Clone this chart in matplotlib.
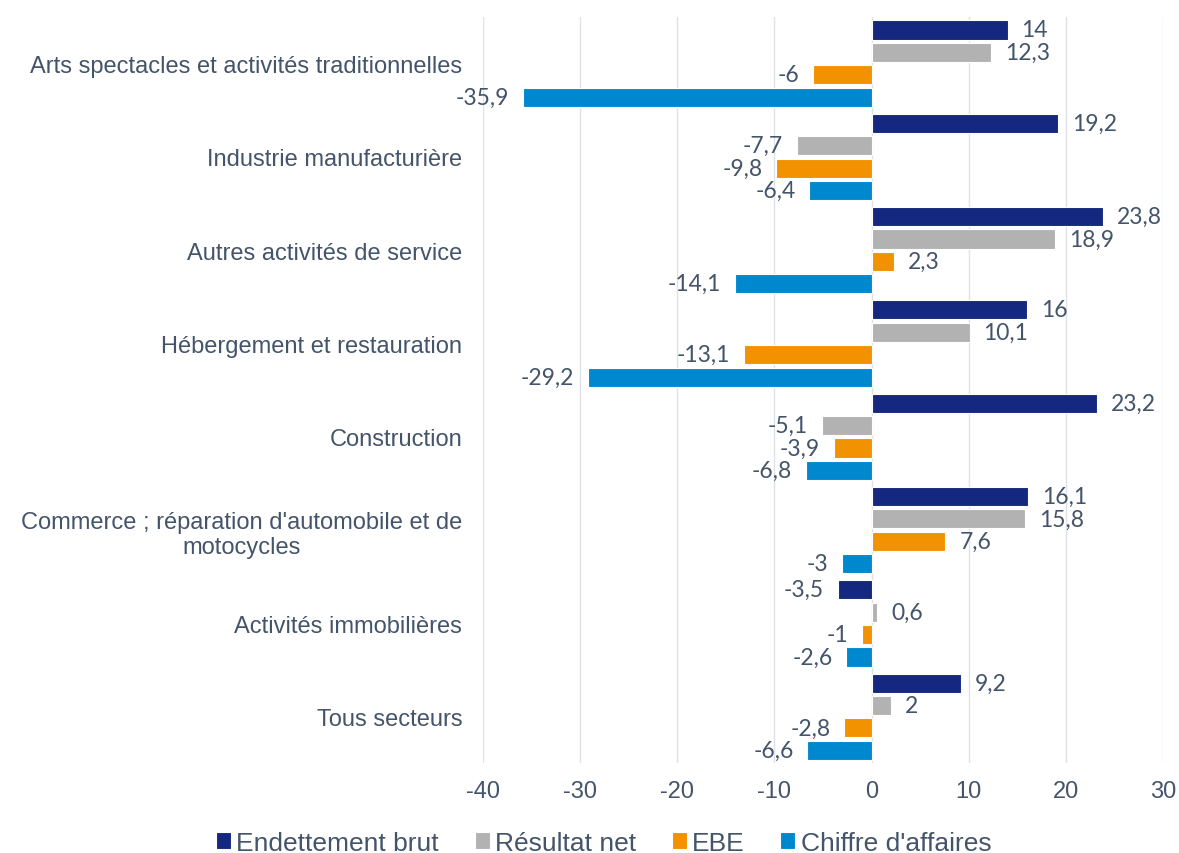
import matplotlib.pyplot as plt
import numpy as np

###############################################################
# data
###############################################################
categories = ['Arts spectacles et activités traditionnelles',
              'Industrie manufacturière',
              'Autres activités de service',
              'Hébergement et restauration',
              'Construction',
              "Commerce ; réparation d'automobile et de\nmotocycles",
              'Activités immobilières',
              'Tous secteurs']
series_names = ['Endettement brut', 'Résultat net', 'EBE', "Chiffre d'affaires"]
endettement = [14, 19.2, 23.8, 16, 23.2, 16.1, -3.5, 9.2]
resultat = [12.3, -7.7, 18.9, 10.1, -5.1, 15.8, 0.6, 2]
ebe = [-6, -9.8, 2.3, -13.1, -3.9, 7.6, -1, -2.8]
chiffre = [-35.9, -6.4, -14.1, -29.2, -6.8, -3, -2.6, -6.6]
xticks = [-40, -30, -20, -10, 0, 10, 20, 30]

colors = ['#13287E', '#B2B2B2', '#F39200', '#0088CE']
text_color = '#44546A'

###############################################################
# figure
###############################################################
fig, ax = plt.subplots(figsize=(11.79, 8.54), dpi=100)
fig.subplots_adjust(left=0.4097, right=0.9864, top=0.979, bottom=0.105)

y = np.arange(len(categories))
slot = 0.24
height = 0.205
all_series = [endettement, resultat, ebe, chiffre]

for i, (vals, name, col) in enumerate(zip(all_series, series_names, colors)):
    pos = y + (i - 1.5) * slot
    ax.barh(pos, vals, height=height, color=col, edgecolor='white',
            linewidth=0.8, label=name, zorder=3)
    for p, v in zip(pos, vals):
        txt = ('%g' % v).replace('.', ',')
        ax.annotate(txt, (v, p), xytext=(10 if v >= 0 else -10, 0),
                    textcoords='offset points', va='center',
                    ha='left' if v >= 0 else 'right',
                    fontsize=16.5, color=text_color, family='Lato')

ax.set_xlim(-40, 30)
ax.set_ylim(len(categories) - 0.5, -0.5)
ax.set_xticks(xticks)
ax.set_xticklabels([str(t) for t in xticks], fontsize=17, color=text_color,
                   family='Liberation Sans')
ax.set_yticks(y)
ax.set_yticklabels(categories, fontsize=17, color=text_color,
                   family='Liberation Sans', multialignment='center')
ax.tick_params(axis='both', length=0)
ax.tick_params(axis='y', pad=15)
ax.tick_params(axis='x', pad=12)
ax.grid(axis='x', color='#DDE2E8', linewidth=1, zorder=0)
for s in ax.spines.values():
    s.set_visible(False)

leg = fig.legend(loc='lower center', ncol=4, frameon=False,
                 bbox_to_anchor=(0.512, -0.03), handlelength=0.57,
                 handleheight=0.57, handletextpad=0.2, columnspacing=1.35,
                 prop={'family': 'Liberation Sans', 'size': 19})
for t in leg.get_texts():
    t.set_color(text_color)

plt.savefig('out.png', dpi=100)
